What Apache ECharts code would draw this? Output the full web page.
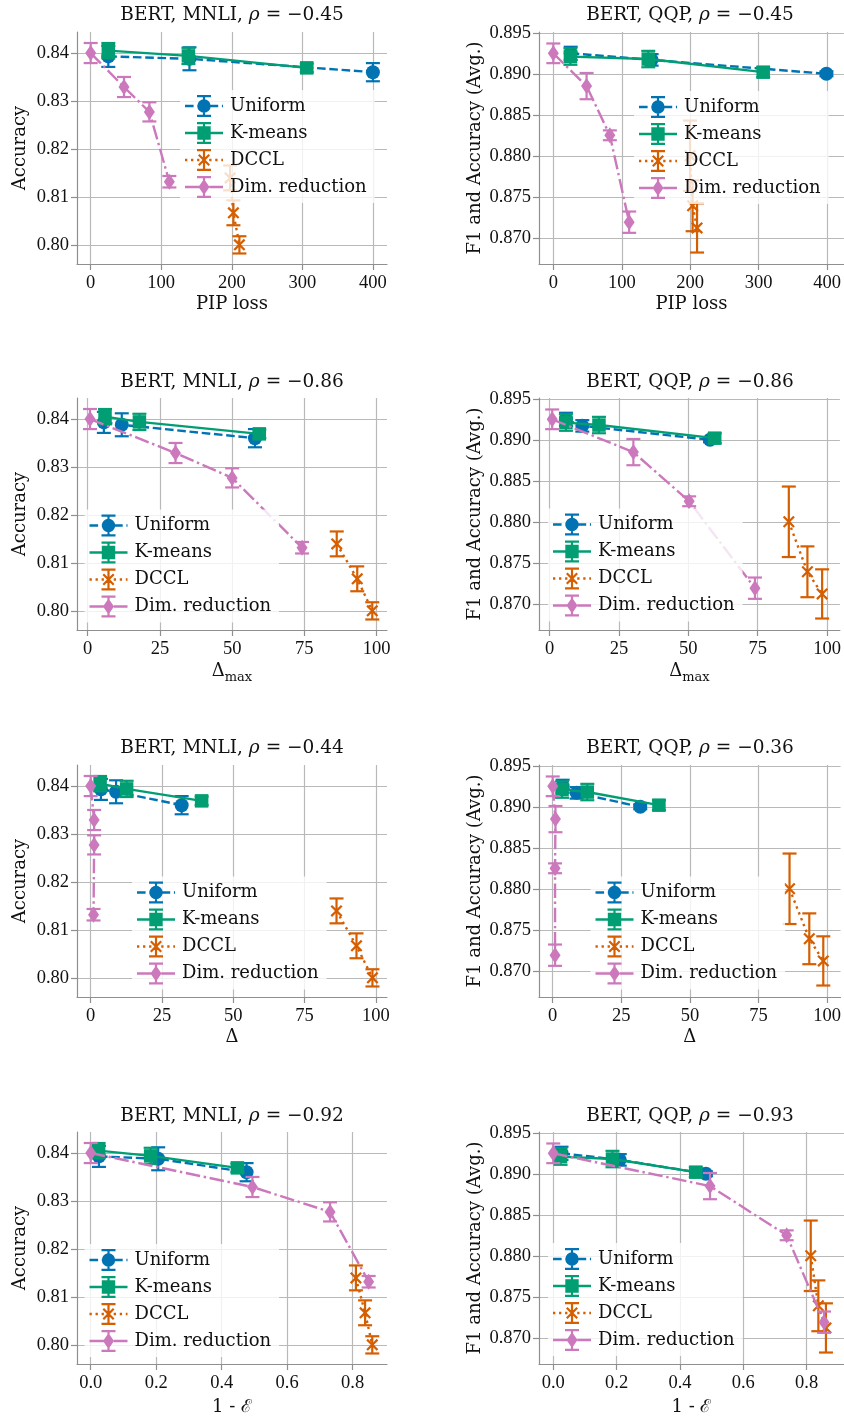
<!DOCTYPE html>
<html><head><meta charset="utf-8">
<script src="https://cdn.jsdelivr.net/npm/echarts@6/dist/echarts.min.js"></script>
<style>html,body{margin:0;padding:0;background:#fff}#c{width:844px;height:1421px}</style>
</head><body><div id="c"></div><script>
// ---------------- DATA ----------------
const methods = ['Uniform', 'K-means', 'DCCL', 'Dim. reduction'];

// MNLI accuracy (mean, +/- error)
const mnliUniform = [0.8394, 0.8389, 0.8361];
const mnliUniformErr = [0.0022, 0.0024, 0.0019];
const mnliKmeans = [0.8406, 0.8395, 0.8370];
const mnliKmeansErr = [0.0016, 0.0017, 0.0009];
const mnliDccl = [0.8140, 0.8067, 0.8000];
const mnliDcclErr = [0.0026, 0.0026, 0.0018];
const mnliDim = [0.8401, 0.8330, 0.8278, 0.8132];
const mnliDimErr = [0.0021, 0.0021, 0.0020, 0.0012];

// QQP F1 and accuracy (avg.)
const qqpUniform = [0.8925, 0.8917, 0.8900];
const qqpUniformErr = [0.0008, 0.0007, 0.0003];
const qqpKmeans = [0.8921, 0.8918, 0.8902];
const qqpKmeansErr = [0.0010, 0.0010, 0.0006];
const qqpDccl = [0.8800, 0.8739, 0.8712];
const qqpDcclErr = [0.0043, 0.0031, 0.0030];
const qqpDim = [0.8925, 0.8885, 0.8825, 0.8719];
const qqpDimErr = [0.0012, 0.0016, 0.0006, 0.0013];

// x values: PIP loss
const pipMnliUniform = [25, 140, 400];
const pipMnliKmeans = [25, 138.5, 306.3];
const pipMnliDccl = [197.6, 202.3, 210.8];
const pipMnliDim = [0, 47.2, 83.2, 111.5];
const pipQqpUniform = [25.4, 143.6, 399];
const pipQqpKmeans = [25, 138.7, 306.6];
const pipQqpDccl = [199.7, 203.5, 210];
const pipQqpDim = [0, 48.6, 82.6, 110.8];

// x values: Delta_max
const dmaxMnliUniform = [5.6, 11.8, 57.9];
const dmaxMnliKmeans = [6.0, 17.9, 59.4];
const dmaxMnliDccl = [86.2, 93.3, 98.5];
const dmaxMnliDim = [0.8, 30.4, 50.0, 74.2];
const dmaxQqpUniform = [5.9, 11.8, 57.8];
const dmaxQqpKmeans = [5.9, 17.8, 59.5];
const dmaxQqpDccl = [86.2, 92.9, 98.2];
const dmaxQqpDim = [0.95, 30.2, 50.3, 74.0];

// x values: Delta
const deltaMnliUniform = [3.6, 8.9, 31.9];
const deltaMnliKmeans = [3.3, 12.6, 38.9];
const deltaMnliDccl = [86.2, 93.2, 98.8];
const deltaMnliDim = [0, 1.2, 1.2, 1.0];
const deltaQqpUniform = [3.6, 8.7, 31.9];
const deltaQqpKmeans = [3.4, 12.6, 38.7];
const deltaQqpDccl = [86.3, 93.5, 98.6];
const deltaQqpDim = [0, 1.0, 0.85, 0.85];

// x values: 1 - E
const eigMnliUniform = [0.025, 0.206, 0.476];
const eigMnliKmeans = [0.024, 0.183, 0.448];
const eigMnliDccl = [0.81, 0.838, 0.86];
const eigMnliDim = [0.0, 0.494, 0.731, 0.849];
const eigQqpUniform = [0.026, 0.21, 0.482];
const eigQqpKmeans = [0.023, 0.187, 0.45];
const eigQqpDccl = [0.813, 0.837, 0.861];
const eigQqpDim = [0.0, 0.495, 0.737, 0.855];

// tick labels
const pipTicks = [0, 100, 200, 300, 400];
const deltaTicks = [0, 25, 50, 75, 100];
const eigTicks = [0.0, 0.2, 0.4, 0.6, 0.8];
const mnliTicks = [0.80, 0.81, 0.82, 0.83, 0.84];
const qqpTicks = [0.870, 0.875, 0.880, 0.885, 0.890, 0.895];

// titles / correlations
const rhoMnli = ['−0.45', '−0.86', '−0.44', '−0.92'];
const rhoQqp = ['−0.45', '−0.86', '−0.36', '−0.93'];

// ---------------- STYLE ----------------
const COLORS = ['#0173b2', '#029e73', '#d55e00', '#cc78bc'];
const SERIF = 'DejaVu Serif';
const TICKFONT = 'Liberation Serif';
const TXT = '#111';
const SPINE = '#8f8f8f';
const GRIDC = '#b9b9b9';
const LW = 2.4;
const DASH = [[8.6, 3.7], 'solid', [2.4, 3.9], [14.5, 3.7, 2.4, 3.7]];
const XPATH = 'path://M0,1.3L1.3,0L5,3.7L8.7,0L10,1.3L6.3,5L10,8.7L8.7,10L5,6.3L1.3,10L0,8.7L3.7,5Z';
const SYMBOLS = ['circle', 'rect', XPATH, 'diamond'];
const SYMSIZE = [14, 13.5, 12, [11, 16]];

// legend icons (line + marker + error bar)
function rect(x0, y0, x1, y1) { return 'M' + x0 + ',' + y0 + 'L' + x1 + ',' + y0 + 'L' + x1 + ',' + y1 + 'L' + x0 + ',' + y1 + 'Z'; }
const IW = 38, IH = 22, ICY = 11, HL = 1.2;
function dashPath(pattern) {
  if (pattern === 'solid') return rect(0, ICY - HL, IW, ICY + HL);
  let s = '', x = 0, i = 0;
  while (x < IW) {
    const len = pattern[i % pattern.length];
    if (i % 2 === 0) s += rect(+x.toFixed(2), ICY - HL, +Math.min(IW, x + len).toFixed(2), ICY + HL);
    x += len; i++;
  }
  return s;
}
const ERRICON = rect(17.9, 0, 20.1, 22) + rect(12, 0, 26, 2.2) + rect(12, 19.8, 26, 22);
const MARKICON = [
  'M25.7,11A6.7,6.7 0 1 1 12.3,11A6.7,6.7 0 1 1 25.7,11Z',
  rect(12.3, 4.3, 25.7, 17.7),
  'M13,6.56L14.56,5L19,9.44L23.44,5L25,6.56L20.56,11L25,15.44L23.44,17L19,12.56L14.56,17L13,15.44L17.44,11Z',
  'M19,3L24.5,11L19,19L13.5,11Z'
];
const LEGICONS = [0, 1, 2, 3].map(i => 'path://' + dashPath(i === 2 ? [2.3, 3.75] : DASH[i]) + ERRICON + MARKICON[i]);

// ---------------- PANELS ----------------
const series = {
  mnli: { y: [mnliUniform, mnliKmeans, mnliDccl, mnliDim], e: [mnliUniformErr, mnliKmeansErr, mnliDcclErr, mnliDimErr] },
  qqp: { y: [qqpUniform, qqpKmeans, qqpDccl, qqpDim], e: [qqpUniformErr, qqpKmeansErr, qqpDcclErr, qqpDimErr] }
};
const xsets = {
  pip: { mnli: [pipMnliUniform, pipMnliKmeans, pipMnliDccl, pipMnliDim], qqp: [pipQqpUniform, pipQqpKmeans, pipQqpDccl, pipQqpDim] },
  dmax: { mnli: [dmaxMnliUniform, dmaxMnliKmeans, dmaxMnliDccl, dmaxMnliDim], qqp: [dmaxQqpUniform, dmaxQqpKmeans, dmaxQqpDccl, dmaxQqpDim] },
  delta: { mnli: [deltaMnliUniform, deltaMnliKmeans, deltaMnliDccl, deltaMnliDim], qqp: [deltaQqpUniform, deltaQqpKmeans, deltaQqpDccl, deltaQqpDim] },
  eig: { mnli: [eigMnliUniform, eigMnliKmeans, eigMnliDccl, eigMnliDim], qqp: [eigQqpUniform, eigQqpKmeans, eigQqpDccl, eigQqpDim] }
};
const metrics = ['pip', 'dmax', 'delta', 'eig'];
const xTickSets = { pip: pipTicks, dmax: deltaTicks, delta: deltaTicks, eig: eigTicks };
const xNames = { pip: 'PIP loss', dmax: '{a|Δ}{s|max}', delta: 'Δ', eig: '1 - ℰ' };

// layout
const ROWTOP = [32, 398, 765, 1132];
const GH = 232;
const COLLEFT = [77, 539];
const COLW = [310, 305];
const TITLEY = [15, 382, 748, 1116];
const XRANGE = [
  [[-19.4, 420], [-20.9, 424.5]],
  [[-3.7, 103.6], [-3.8, 104.6]],
  [[-4.8, 103.9], [-5.0, 104.9]],
  [[-0.042, 0.905], [-0.045, 0.918]]
];
const YRANGE = { mnli: [0.796, 0.8445], qqp: [0.8668, 0.8951] };
const XNAMEGAP = [31, 29, 31, 34];
// legend: [text left, first item center y]
const LEGPOS = [
  [[232, 106], [686, 107]],
  [[136.5, 525.5], [600, 524.5]],
  [[184, 892.5], [642.5, 892.5]],
  [[136.5, 1260], [600, 1259]]
];

const grids = [], xAxes = [], yAxes = [], allSeries = [], titles = [], legends = [];

function errRender(color) {
  return function (params, api) {
    const x = api.value(0), lo = api.value(1), hi = api.value(2);
    const a = api.coord([x, lo]), b = api.coord([x, hi]);
    const hw = 7;
    const st = { stroke: color, lineWidth: 2.2, fill: null };
    return { type: 'group', children: [
      { type: 'line', shape: { x1: a[0], y1: a[1], x2: b[0], y2: b[1] }, style: st },
      { type: 'line', shape: { x1: a[0] - hw, y1: a[1], x2: a[0] + hw, y2: a[1] }, style: st },
      { type: 'line', shape: { x1: b[0] - hw, y1: b[1], x2: b[0] + hw, y2: b[1] }, style: st }
    ] };
  };
}

let gi = 0;
for (let r = 0; r < 4; r++) {
  for (let c = 0; c < 2; c++) {
    const ds = c === 0 ? 'mnli' : 'qqp';
    const m = metrics[r];
    grids.push({ left: COLLEFT[c], top: ROWTOP[r], width: COLW[c], height: GH, containLabel: false });
    const xt = xTickSets[m];
    xAxes.push({
      gridIndex: gi, type: 'value', min: XRANGE[r][c][0], max: XRANGE[r][c][1],
      axisLine: { show: true, onZero: false, lineStyle: { color: SPINE, width: 1.2 } },
      axisTick: { show: true, length: 6, customValues: xt, lineStyle: { color: SPINE, width: 1.2 } },
      axisLabel: { customValues: xt, margin: 10, fontFamily: TICKFONT, fontSize: 18.5, color: TXT,
        formatter: v => m === 'eig' ? Number(v).toFixed(1) : String(Math.round(v)) },
      splitLine: { show: true, lineStyle: { color: GRIDC, width: 1.2 } },
      name: xNames[m], nameLocation: 'middle', nameGap: XNAMEGAP[r],
      nameTextStyle: { fontFamily: SERIF, fontSize: 18, color: TXT,
        rich: { a: { fontFamily: SERIF, fontSize: 18, color: TXT }, s: { fontFamily: SERIF, fontSize: 13, color: TXT, padding: [12, 0, 0, 0] } } }
    });
    const yt = ds === 'mnli' ? mnliTicks : qqpTicks;
    yAxes.push({
      gridIndex: gi, type: 'value', min: YRANGE[ds][0], max: YRANGE[ds][1],
      axisLine: { show: true, onZero: false, lineStyle: { color: SPINE, width: 1.2 } },
      axisTick: { show: true, length: 6, customValues: yt, lineStyle: { color: SPINE, width: 1.2 } },
      axisLabel: { customValues: yt, margin: 8, fontFamily: TICKFONT, fontSize: 18.5, color: TXT,
        formatter: v => Number(v).toFixed(ds === 'mnli' ? 2 : 3) },
      splitLine: { show: true, lineStyle: { color: GRIDC, width: 1.2 } },
      name: ds === 'mnli' ? 'Accuracy' : 'F1 and Accuracy (Avg.)', nameLocation: 'middle',
      nameGap: ds === 'mnli' ? 48 : 55,
      nameTextStyle: { fontFamily: SERIF, fontSize: 18, color: TXT }
    });
    for (let k = 0; k < 4; k++) {
      const xs = xsets[m][ds][k], ys = series[ds].y[k], es = series[ds].e[k];
      const pts = xs.map((x, i) => [x, ys[i]]);
      const errs = xs.map((x, i) => [x, ys[i] - es[i], ys[i] + es[i]]);
      allSeries.push({
        type: 'custom', name: methods[k] + ' error', xAxisIndex: gi, yAxisIndex: gi,
        renderItem: errRender(COLORS[k]), data: errs, encode: { x: 0, y: [1, 2] },
        z: 2 + k, silent: true, clip: false, animation: false
      });
      allSeries.push({
        type: 'line', name: methods[k], xAxisIndex: gi, yAxisIndex: gi, data: pts,
        symbol: SYMBOLS[k], symbolSize: SYMSIZE[k], showSymbol: true,
        lineStyle: { color: COLORS[k], width: LW, type: DASH[k], cap: 'butt' },
        itemStyle: { color: COLORS[k], borderWidth: 0 },
        z: 2 + k, silent: true, clip: false, animation: false, emphasis: { disabled: true }
      });
    }
    const cx = COLLEFT[c] + (c === 0 ? COLW[c] / 2 : 151);
    titles.push({
      text: '{n|BERT, ' + (ds === 'mnli' ? 'MNLI' : 'QQP') + ', }{i|ρ}{n| = ' + (ds === 'mnli' ? rhoMnli[r] : rhoQqp[r]) + '}',
      left: cx, top: TITLEY[r], textAlign: 'center', textVerticalAlign: 'middle', padding: 0,
      textStyle: { fontFamily: SERIF, fontSize: 18.5, color: TXT, fontWeight: 'normal',
        rich: { n: { fontFamily: SERIF, fontSize: 18.5, color: TXT }, i: { fontFamily: SERIF, fontSize: 18.5, fontStyle: 'italic', color: TXT } } }
    });
    const lp = LEGPOS[r][c];
    legends.push({
      orient: 'vertical', left: lp[0] - 47 - 5, top: lp[1] - 11 - 5,
      itemWidth: 42, itemHeight: 22, itemGap: 5, symbolKeepAspect: true,
      padding: [5, 8, 5, 5], backgroundColor: 'rgba(255,255,255,0.8)', borderWidth: 0,
      selectedMode: false, z: 20,
      itemStyle: { borderWidth: 0 },
      textStyle: { fontFamily: SERIF, fontSize: 18, color: TXT, lineHeight: 22 },
      data: methods.map((nm, k) => ({ name: nm, icon: LEGICONS[k], itemStyle: { color: COLORS[k], borderWidth: 0 } }))
    });
    gi++;
  }
}

const chart = echarts.init(document.getElementById('c'), null, { renderer: 'canvas' });
chart.setOption({
  animation: false,
  backgroundColor: '#fff',
  textStyle: { fontFamily: SERIF },
  title: titles,
  legend: legends,
  grid: grids,
  xAxis: xAxes,
  yAxis: yAxes,
  series: allSeries
});
</script></body></html>
